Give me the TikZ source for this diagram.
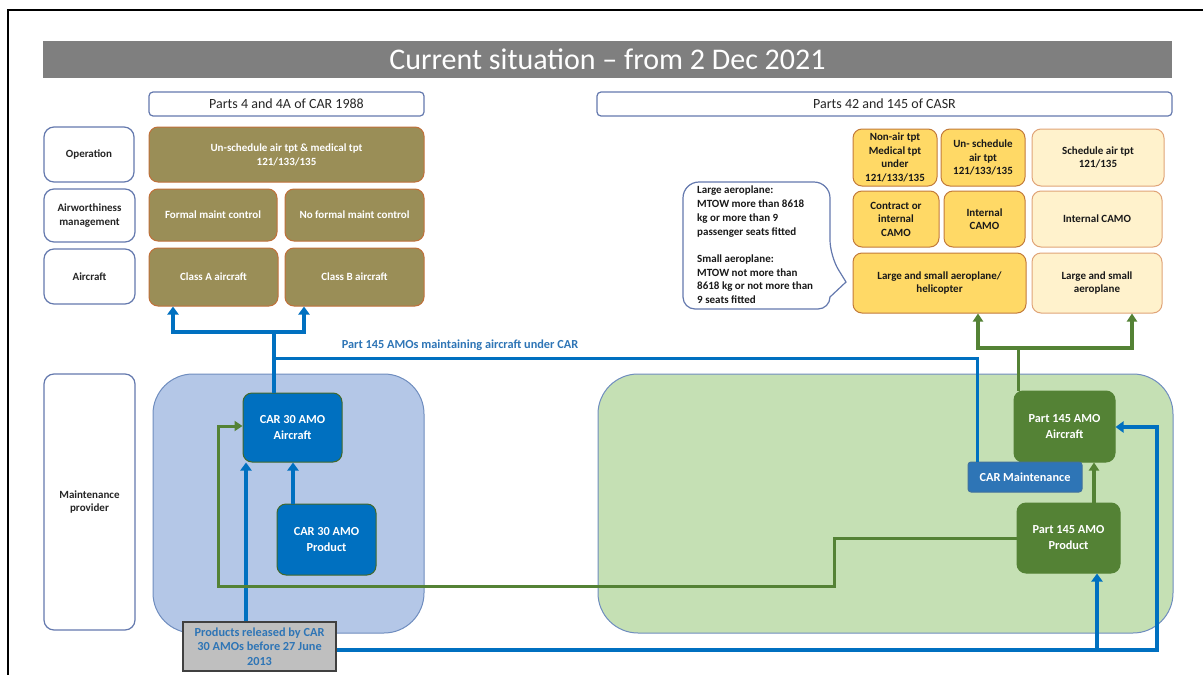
\documentclass[tikz,border=0pt]{standalone}
\usepackage{fontspec}
\setmainfont{Carlito}
\usetikzlibrary{arrows.meta}
\definecolor{titlegray}{HTML}{7F7F7F}
\definecolor{lblc}{HTML}{6479AE}
\definecolor{olf}{HTML}{9A8E57}
\definecolor{olb}{HTML}{C0703A}
\definecolor{orf}{HTML}{FFD966}
\definecolor{orb}{HTML}{C27A3A}
\definecolor{ltf}{HTML}{FFF2CC}
\definecolor{ltb}{HTML}{E0A478}
\definecolor{regblue}{HTML}{B4C7E7}
\definecolor{reggreen}{HTML}{C5E0B4}
\definecolor{regb}{HTML}{6F8DBF}
\definecolor{dblue}{HTML}{0070C0}
\definecolor{dgreen}{HTML}{548235}
\definecolor{cmaint}{HTML}{2E75B6}
\definecolor{cmaintb}{HTML}{41719C}
\definecolor{pgray}{HTML}{BFBFBF}
\definecolor{tblue}{HTML}{2E75B6}
\newcommand\mybox[7]{\node[#2, minimum width={#5-#3}, minimum height={#6-#4}] (#1) at ({(#3+#5)/2},{(#4+#6)/2}) {#7};}
\begin{document}
\begin{tikzpicture}[x=1pt,y=-1pt,
  lbl/.style={draw=lblc, line width=1.2pt, rounded corners=10pt, fill=white, inner sep=0pt, align=center, font=\fontsize{11}{13.5}\selectfont\bfseries, text=black!85},
  hdr/.style={draw=lblc, line width=1.2pt, rounded corners=4pt, fill=white, inner sep=0pt, font=\fontsize{14}{16}\selectfont, text=black!85},
  olive/.style={draw=olb, fill=olf, line width=1pt, rounded corners=9pt, inner sep=0pt, align=center, text=white, font=\fontsize{11}{14}\selectfont\bfseries},
  org/.style={draw=orb, fill=orf, line width=1pt, rounded corners=9pt, inner sep=0pt, align=center, text=black!90, font=\fontsize{11}{13.5}\selectfont\bfseries},
  lite/.style={org, draw=ltb, fill=ltf},
  region/.style={draw=regb, line width=1pt, rounded corners=40pt, inner sep=0pt},
  amo/.style={line width=1pt, rounded corners=9pt, inner sep=0pt, align=center, text=white, font=\fontsize{12.3}{16}\selectfont\bfseries},
  bline/.style={draw=dblue, line width=4pt},
  barr/.style={bline, -{Triangle[width=11pt,length=8pt]}},
  gline/.style={draw=dgreen, line width=3.5pt},
  garr/.style={gline, -{Triangle[width=10pt,length=8pt]}},
]
\useasboundingbox (0,0) rectangle (1203,675);
\fill[white] (0,0) rectangle (1203,675);
% frame
\draw[black, line width=2pt] (8,675) -- (8,10) -- (1203,10);
% title
\mybox{title}{fill=titlegray, inner sep=0pt, text=white, font=\fontsize{30}{32}\selectfont}{43}{41}{1172}{78}{Current situation -- from 2 Dec 2021}
% headers
\mybox{hcar}{hdr}{149}{92}{424}{116}{Parts 4 and 4A of CAR 1988}
\mybox{hcasr}{hdr}{597}{92}{1172}{116}{Parts 42 and 145 of CASR}
% left labels
\mybox{lop}{lbl}{44}{127}{134}{182}{Operation}
\mybox{law}{lbl}{44}{189}{135}{242}{Airworthiness\\management}
\mybox{lac}{lbl}{44}{249}{135}{304}{Aircraft}
\mybox{lmp}{lbl}{44}{374}{135}{630}{Maintenance\\provider}
% olive boxes
\mybox{unsch}{olive}{149}{127}{424}{182}{Un-schedule air tpt \& medical tpt\\121/133/135}
\mybox{fmc}{olive}{149}{189}{277}{241}{Formal maint control}
\mybox{nfmc}{olive}{285}{189}{424}{241}{No formal maint control}
\mybox{clsA}{olive}{149}{248}{278}{306}{Class A aircraft}
\mybox{clsB}{olive}{285}{248}{424}{306}{Class B aircraft}
% right boxes
\mybox{nonair}{org}{853}{129}{937}{186}{Non-air tpt\\Medical tpt\\under\\121/133/135}
\mybox{unsch2}{org}{941}{129}{1025}{186}{Un- schedule\\air tpt\\121/133/135}
\mybox{sched}{lite}{1032}{129}{1164}{186}{Schedule air tpt\\121/135}
\mybox{ccamo}{org}{853}{191}{939}{247}{Contract or\\internal\\CAMO}
\mybox{icamo}{org}{944}{191}{1025}{247}{Internal\\CAMO}
\mybox{icamo2}{lite}{1032}{191}{1162}{247}{Internal CAMO}
\mybox{lsah}{org}{853}{253}{1026}{313}{Large and small aeroplane/\\helicopter}
\mybox{lsa}{lite}{1032}{253}{1162}{313}{Large and small\\aeroplane}
% callout
\draw[draw=lblc, line width=1.2pt, fill=white] (756,182) [rounded corners=16pt] -- (830,182) -- (830,256) [sharp corners] -- (846,282) -- (830,297) [rounded corners=12pt] -- (830,309) -- (683,309) [rounded corners=16pt] -- (683,182) -- cycle;
\node[anchor=north west, inner sep=0pt, align=left, font=\fontsize{11}{13.7}\selectfont\bfseries, text=black!90] (callt) at (697,186)
  {Large aeroplane:\\MTOW more than 8618\\kg or more than 9\\passenger seats fitted\\[13.7pt]Small aeroplane:\\MTOW not more than\\8618 kg or not more than\\9 seats fitted};
% regions
\mybox{rblue}{region, fill=regblue}{153}{374}{424}{633}{}
\mybox{rgreen}{region, fill=reggreen}{598}{374}{1173}{633}{}
% coordinates
\coordinate (br) at (274,332);
\coordinate (ta) at (173,332);
\coordinate (tb) at (304,332);
\coordinate (j1) at (274,358);
\coordinate (j2) at (977,358);
\coordinate (c3x) at (246,500);
\coordinate (c4x) at (293,500);
\coordinate (b1) at (1157,650);
\coordinate (b2) at (1157,427);
\coordinate (b3) at (1097,650);
\coordinate (g1) at (1018,348);
\coordinate (g2) at (978,348);
\coordinate (g3) at (1132,348);
\coordinate (g7) at (1094,500);
\coordinate (q0) at (1017,538);
\coordinate (q1) at (834,538);
\coordinate (q2) at (834,586);
\coordinate (q3) at (218,586);
\coordinate (q4) at (218,426);
% maintenance boxes
\mybox{c30a}{amo, fill=dblue, draw=dgreen!80!black}{243}{393}{342}{462}{CAR 30 AMO\\Aircraft}
\mybox{c30p}{amo, fill=dblue, draw=dgreen!80!black}{277}{504}{376}{575}{CAR 30 AMO\\Product}
\mybox{p145a}{amo, fill=dgreen, draw=dgreen}{1014}{391}{1115}{462}{Part 145 AMO\\Aircraft}
\mybox{p145p}{amo, fill=dgreen, draw=dgreen}{1017}{503}{1120}{573}{Part 145 AMO\\Product}
\mybox{carm}{fill=cmaint, draw=cmaintb, line width=1pt, rounded corners=3pt, inner sep=0pt, text=white, font=\fontsize{12.3}{14}\selectfont\bfseries}{968}{462}{1082}{492}{CAR Maintenance}
\mybox{prod}{fill=pgray, draw=black!75, line width=1.5pt, inner sep=0pt, align=center, text=tblue, font=\fontsize{12.3}{14.5}\selectfont\bfseries}{183}{622}{336}{671}{Products released by CAR\\30 AMOs before 27 June\\2013}
% blue connectors
\draw[bline] (c30a.north -| br) -- (br);
\draw[barr] (br) -- (ta) -- (ta |- clsA.south);
\draw[barr] (br) -- (tb) -- (tb |- clsB.south);
\draw[draw=dblue, line width=3pt] (j1) -- (j2) -- (j2 |- carm.north);
\node[text=tblue, font=\fontsize{12.3}{14}\selectfont\bfseries, inner sep=0pt] (lab145) at (460,345) {Part 145 AMOs maintaining aircraft under CAR};
\draw[barr] (prod.north -| c3x) -- (c30a.south -| c3x);
\draw[barr] (c30p.north -| c4x) -- (c30a.south -| c4x);
\draw[barr] (prod.east |- b1) -- (b1) -- (b2) -- (p145a.east |- b2);
\draw[barr] (b3) -- (b3 |- p145p.south);
% green connectors
\draw[gline, line width=3pt] (p145a.north -| g1) -- (g1);
\draw[garr] (g1) -- (g2) -- (g2 |- lsah.south);
\draw[garr] (g1) -- (g3) -- (g3 |- lsa.south);
\draw[garr] (p145p.north -| g7) -- (p145a.south -| g7);
\draw[garr, line width=3pt] (p145p.west |- q0) -- (q1) -- (q2) -- (q3) -- (q4) -- (c30a.west |- q4);
\end{tikzpicture}
\end{document}
